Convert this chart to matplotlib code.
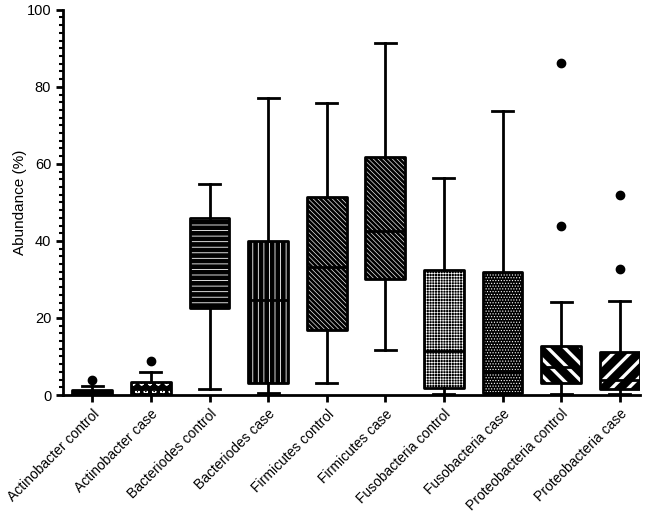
import matplotlib as mpl
import matplotlib.pyplot as plt
from matplotlib.patches import PathPatch
from matplotlib.ticker import MultipleLocator

labels = [
    "Actinobacter control", "Actinobacter case",
    "Bacteriodes control", "Bacteriodes case",
    "Firmicutes control", "Firmicutes case",
    "Fusobacteria control", "Fusobacteria case",
    "Proteobacteria control", "Proteobacteria case",
]
whislo = [0.0, 0.2, 1.5, 0.5, 3.0, 11.7, 0.3, 0.0, 0.2, 0.3]
q1 = [0.0, 0.3, 22.7, 3.2, 17.0, 30.0, 1.8, 0.5, 3.2, 1.5]
med = [0.5, 1.5, 38.0, 24.7, 33.2, 42.5, 11.5, 6.0, 7.3, 3.9]
q3 = [1.2, 3.3, 46.0, 40.0, 51.5, 61.8, 32.5, 32.0, 12.7, 11.2]
whishi = [2.3, 6.0, 54.7, 77.0, 75.8, 91.5, 56.3, 73.8, 24.2, 24.5]
fliers = [[4.0], [8.9], [], [], [], [], [], [], [44.0, 86.2], [32.7, 52.0]]

# hatch pattern and white line width for each box
hatches = [None, "oo", "---", "|||", "\\" * 7, "\\" * 7, "++++++", "......", "\\\\", "//"]
hatch_lw = [0.5, 0.8, 0.6, 0.6, 0.45, 0.45, 0.45, 0.5, 2.4, 2.4]

plt.rcParams["font.family"] = ["Liberation Sans", "DejaVu Sans"]
plt.rcParams["hatch.linewidth"] = 0.5

fig = plt.figure(figsize=(6.5, 5.15), dpi=100)
ax = fig.add_axes([0.097, 0.233, 0.888, 0.748])

stats = []
for i in range(len(labels)):
    stats.append({
        "label": labels[i], "whislo": whislo[i], "q1": q1[i], "med": med[i],
        "q3": q3[i], "whishi": whishi[i], "fliers": fliers[i],
    })

bp = ax.bxp(
    stats,
    positions=range(len(labels)),
    widths=0.68,
    capwidths=0.36,
    patch_artist=True,
    boxprops={"linewidth": 0},
    whiskerprops={"linewidth": 2, "color": "black"},
    capprops={"linewidth": 2, "color": "black"},
    medianprops={"linewidth": 2, "color": "black"},
    flierprops={"marker": "o", "markerfacecolor": "black",
                "markeredgecolor": "black", "markersize": 6},
)

for box, h, hl in zip(bp["boxes"], hatches, hatch_lw):
    box.set_facecolor("black")
    box.set_edgecolor("white")
    box.set_zorder(2)
    if h:
        box.set_hatch(h)
        if hasattr(box, "set_hatch_linewidth"):
            box.set_hatch_linewidth(hl)
    ax.add_patch(PathPatch(box.get_path(), fill=False, ec="black",
                           lw=2, zorder=3, joinstyle="round"))
for m in bp["medians"]:
    m.set_zorder(4)

ax.set_xlim(-0.5, 9.35)
ax.set_ylim(0, 100)
ax.yaxis.set_major_locator(MultipleLocator(20))
ax.yaxis.set_minor_locator(MultipleLocator(2))
ax.spines["top"].set_visible(False)
ax.spines["right"].set_visible(False)
ax.spines["left"].set_linewidth(2)
ax.spines["bottom"].set_linewidth(2)
ax.tick_params(axis="both", which="major", width=2, length=5, labelsize=10.5)
ax.tick_params(axis="y", which="minor", width=1.5, length=3)
ax.set_xticks(range(len(labels)))
ax.set_xticklabels(labels, rotation=45, ha="right", rotation_mode="anchor",
                   fontsize=10)
ax.set_ylabel("Abundance (%)", fontsize=11)
ax.yaxis.set_label_coords(-0.062, 0.5)

fig.savefig("out.png", dpi=100)
